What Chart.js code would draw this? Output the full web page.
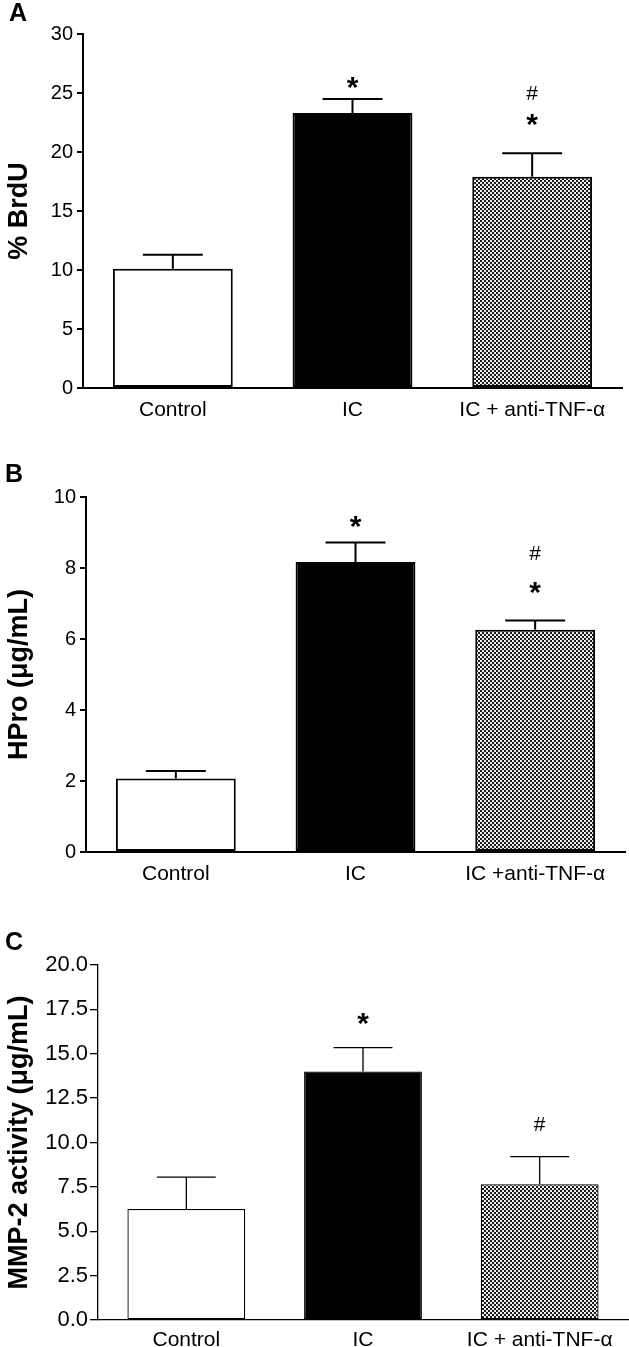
<!DOCTYPE html>
<html>
<head>
<meta charset="utf-8">
<script src="https://cdn.jsdelivr.net/npm/chart.js@4.4.0/dist/chart.umd.min.js"></script>
<style>
  body { margin: 0; background: #fff; }
  #wrap { position: relative; width: 629px; height: 1347px; overflow: hidden; }
  canvas { position: absolute; left: 0; }
</style>
</head>
<body>
<div id="wrap">
  <canvas id="chartA" width="629" height="430" style="top:0px"></canvas>
  <canvas id="chartB" width="629" height="460" style="top:430px"></canvas>
  <canvas id="chartC" width="629" height="457" style="top:890px"></canvas>
</div>
<script>
// categories
var labelsA = ['Control', 'IC', 'IC + anti-TNF-\u03b1'];
var labelsB = ['Control', 'IC', 'IC +anti-TNF-\u03b1'];
var labelsC = ['Control', 'IC', 'IC + anti-TNF-\u03b1'];

// panel A - % BrdU
var brduMean = [10.1, 23.3, 17.9];
var brduErr = [1.2, 1.2, 2.0];
var brduMarks = [[], ['*'], ['*', '#']];
var brduAxis = [0, 30, 5];

// panel B - HPro
var hproMean = [2.07, 8.17, 6.26];
var hproErr = [0.21, 0.55, 0.26];
var hproMarks = [[], ['*'], ['*', '#']];
var hproAxis = [0, 10, 2];

// panel C - MMP-2 activity
var mmpMean = [6.25, 14.0, 7.65];
var mmpErr = [1.8, 1.35, 1.55];
var mmpMarks = [[], ['*'], ['#']];
var mmpAxis = [0, 20, 2.5];

var FONT = "'Liberation Sans', Arial, Helvetica, sans-serif";

// checkered fill for the third bar
function makePattern() {
    var c = document.createElement('canvas');
    c.width = 4; c.height = 4;
    var g = c.getContext('2d');
    g.fillStyle = '#efefef';
    g.fillRect(0, 0, 4, 4);
    g.fillStyle = '#1c1c1c';
    g.fillRect(0, 0, 2, 2);
    g.fillRect(2, 2, 2, 2);
    return g.createPattern(c, 'repeat');
}

// error bars, significance marks and the panel letter
var extrasPlugin = {
    id: 'extras',
    afterDatasetsDraw: function (chart, args, o) {
        var ctx = chart.ctx;
        var meta = chart.getDatasetMeta(0);
        var y = chart.scales.y;
        ctx.save();
        ctx.strokeStyle = '#000';
        ctx.lineWidth = o.lineWidth;
        meta.data.forEach(function (bar, i) {
            var top = y.getPixelForValue(o.mean[i] + o.err[i]);
            var half = bar.width / 4;
            ctx.beginPath();
            ctx.moveTo(bar.x, bar.y);
            ctx.lineTo(bar.x, top);
            ctx.moveTo(bar.x - half, top);
            ctx.lineTo(bar.x + half, top);
            ctx.stroke();

            // marks, from the bottom up
            o.marks[i].forEach(function (m, k) {
                var cy = top - o.markGap[i][k];
                ctx.font = m === '*' ? 'bold 30px ' + FONT : '21px ' + FONT;
                ctx.fillStyle = '#000';
                ctx.textAlign = 'center';
                ctx.textBaseline = 'alphabetic';
                var tm = ctx.measureText(m);
                var asc = tm.actualBoundingBoxAscent, desc = tm.actualBoundingBoxDescent;
                ctx.fillText(m, bar.x, cy + (asc - desc) / 2);
            });
        });

        ctx.font = 'bold 25px ' + FONT;
        ctx.textAlign = 'left';
        ctx.textBaseline = 'alphabetic';
        ctx.fillStyle = '#000';
        ctx.fillText(o.letter, o.letterX, o.letterY);
        ctx.restore();
    }
};

var pattern = makePattern();

function drawPanel(id, p) {
    var ctx = document.getElementById(id);
    return new Chart(ctx, {
        type: 'bar',
        data: {
            labels: p.labels,
            datasets: [{
                data: p.mean,
                backgroundColor: ['#ffffff', '#000000', pattern],
                borderColor: '#000',
                borderWidth: p.lw,
                borderSkipped: false,
                barPercentage: 0.667,
                categoryPercentage: 1
            }]
        },
        options: {
            responsive: false,
            animation: false,
            layout: { padding: { top: p.top, right: p.right, left: 0, bottom: 0 } },
            plugins: {
                legend: { display: false },
                tooltip: { enabled: false },
                extras: {
                    mean: p.mean, err: p.err, marks: p.marks, markGap: p.markGap,
                    lineWidth: p.lw, letter: p.letter, letterX: p.letterX, letterY: p.letterY
                }
            },
            scales: {
                x: {
                    grid: { display: true, drawOnChartArea: false, drawTicks: false },
                    border: { color: '#000', width: p.lw },
                    ticks: {
                        color: '#000', font: { family: FONT, size: 21 },
                        padding: p.xPad, maxRotation: 0, autoSkip: false
                    },
                    afterFit: function (s) { s.height = p.xHeight; }
                },
                y: {
                    min: p.axis[0],
                    max: p.axis[1],
                    ticks: {
                        stepSize: p.axis[2],
                        color: '#000',
                        font: { family: FONT, size: p.tickSize },
                        padding: p.tickPad,
                        callback: function (v) { return p.decimals ? v.toFixed(p.decimals) : v; }
                    },
                    grid: {
                        drawOnChartArea: false, drawTicks: true, tickLength: p.tickLen,
                        color: '#000', lineWidth: p.lw
                    },
                    border: { color: '#000', width: p.lw },
                    title: {
                        display: true, text: p.title, color: '#000',
                        font: { family: FONT, size: 27, weight: 'bold' },
                        padding: { top: 3, bottom: 0 }
                    },
                    afterFit: function (s) { s.width = p.yWidth; }
                }
            }
        },
        plugins: [extrasPlugin]
    });
}

drawPanel('chartA', {
    labels: labelsA, mean: brduMean, err: brduErr, marks: brduMarks,
    markGap: [[], [16], [33, 60]], axis: brduAxis, decimals: 0,
    title: '% BrdU', letter: 'A', letterX: 9, letterY: 21,
    top: 34, right: 7, yWidth: 83, xHeight: 42, lw: 2, xPad: 10,
    tickSize: 20, tickPad: 4, tickLen: 6
});

drawPanel('chartB', {
    labels: labelsB, mean: hproMean, err: hproErr, marks: hproMarks,
    markGap: [[], [20], [33, 68]], axis: hproAxis, decimals: 0,
    title: 'HPro (\u03bcg/mL)', letter: 'B', letterX: 5, letterY: 52,
    top: 67, right: 4, yWidth: 86, xHeight: 38, lw: 2, xPad: 10,
    tickSize: 20, tickPad: 4, tickLen: 6
});

drawPanel('chartC', {
    labels: labelsC, mean: mmpMean, err: mmpErr, marks: mmpMarks,
    markGap: [[], [29], [33]], axis: mmpAxis, decimals: 1,
    title: 'MMP-2 activity (\u03bcg/mL)', letter: 'C', letterX: 5, letterY: 60,
    top: 75, right: 1, yWidth: 98, xHeight: 27, lw: 1.3, xPad: 8,
    tickSize: 22, tickPad: 2, tickLen: 8
});
</script>
</body>
</html>
